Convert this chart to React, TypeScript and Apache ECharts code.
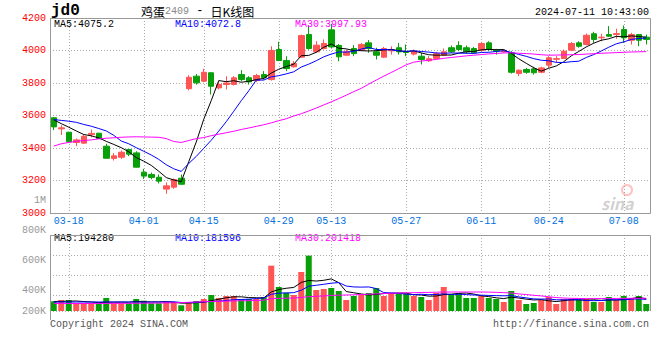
import React, { useEffect, useRef } from 'react';
import * as echarts from 'echarts';

const dates = ['03-14','03-15','03-18','03-19','03-20','03-21','03-22','03-25','03-26','03-27','03-28','03-29','04-01','04-02','04-03','04-08','04-09','04-10','04-11','04-12','04-15','04-16','04-17','04-18','04-19','04-22','04-23','04-24','04-25','04-26','04-29','04-30','05-06','05-07','05-08','05-09','05-10','05-13','05-14','05-15','05-16','05-17','05-20','05-21','05-22','05-23','05-24','05-27','05-28','05-29','05-30','05-31','06-03','06-04','06-05','06-06','06-07','06-11','06-12','06-13','06-14','06-17','06-18','06-19','06-20','06-21','06-24','06-25','06-26','06-27','06-28','07-01','07-02','07-03','07-04','07-05','07-08','07-09','07-10','07-11'];

const opens = [3586,3518,3497,3434,3430,3482,3491,3411,3336,3343,3391,3370,3251,3237,3220,3147,3159,3214,3765,3842,3811,3863,3770,3791,3791,3852,3832,3815,3852,3821,4006,3938,3900,3959,4098,3992,4012,4127,4031,3971,4012,4002,4047,3992,3959,3998,4017,3990,3978,3965,3937,3951,3971,4017,4031,4017,4012,4002,4047,4002,3992,3986,3858,3883,3887,3866,3910,3946,3951,4002,4047,4037,4103,4078,4098,4098,4129,4063,4098,4082];
const closes = [3530,3524,3438,3450,3472,3490,3458,3337,3352,3374,3362,3282,3227,3219,3196,3167,3206,3177,3835,3801,3866,3780,3791,3800,3832,3821,3807,3846,3832,4000,3938,3889,3920,4092,4012,4033,4043,4022,3961,3992,3981,4037,4012,3971,4012,4004,3992,3988,3994,3945,3949,3980,3992,3992,4006,3992,3986,4043,4006,3996,3998,3866,3879,3866,3863,3893,3955,3950,3996,4043,4026,4094,4068,4082,4088,4104,4078,4098,4063,4068];
const lows = [3510,3480,3435,3411,3425,3466,3456,3335,3323,3333,3350,3280,3210,3208,3182,3118,3149,3175,3755,3790,3805,3729,3760,3760,3785,3811,3790,3805,3821,3815,3935,3873,3895,3955,4005,3986,4006,4015,3934,3965,3965,3996,3986,3945,3955,3975,3975,3965,3970,3914,3930,3945,3965,3986,3996,3980,3980,3996,3996,3975,3986,3858,3842,3857,3852,3860,3893,3924,3949,3996,4017,4031,4047,4057,4084,4072,4047,4037,4026,4037];
const highs = [3590,3540,3500,3458,3483,3514,3493,3426,3368,3385,3393,3380,3272,3249,3237,3188,3212,3237,3848,3855,3887,3865,3807,3842,3842,3879,3842,3856,3873,4026,4053,3965,3935,4098,4155,4057,4068,4163,4040,4006,4033,4047,4064,4017,4022,4026,4047,4037,4006,3986,3965,3992,4012,4031,4057,4031,4022,4053,4057,4010,4006,3996,3883,3893,3900,3900,3965,3965,4006,4053,4057,4104,4115,4103,4150,4134,4154,4109,4098,4098];

const ma5 = [3573,3550,3528,3505,3483,3475,3462,3441,3422,3402,3377,3341,3319,3293,3257,3218,3203,3193,3316,3437,3577,3692,3815,3808,3814,3805,3810,3821,3828,3861,3885,3901,3916,3968,3970,3989,4020,4040,4014,4010,4000,3999,3997,3999,4003,4007,3998,3993,3998,3985,3974,3971,3972,3972,3984,3992,3994,4004,4007,4005,4006,3982,3949,3921,3894,3873,3891,3905,3931,3967,3994,4022,4045,4063,4072,4087,4084,4090,4086,4082];
const ma10 = [3575,3570,3565,3558,3545,3534,3520,3505,3478,3443,3426,3402,3380,3357,3330,3297,3272,3256,3305,3348,3398,3448,3504,3562,3626,3691,3752,3818,3818,3838,3845,3856,3869,3898,3916,3937,3961,3978,3991,3990,3995,4009,4019,4006,4006,4004,3998,3995,3998,3994,3990,3985,3983,3985,3984,3983,3982,3988,3989,3994,3999,3988,3976,3964,3950,3940,3937,3927,3926,3931,3934,3957,3975,3997,4020,4041,4053,4068,4074,4077];
const ma30 = [3412,3426,3434,3441,3446,3450,3456,3460,3463,3466,3468,3469,3468,3467,3466,3458,3440,3434,3446,3458,3464,3476,3485,3494,3503,3514,3523,3533,3543,3555,3568,3580,3597,3611,3628,3646,3665,3684,3704,3725,3747,3767,3793,3818,3842,3865,3888,3912,3928,3935,3940,3945,3952,3957,3962,3967,3971,3975,3979,3982,3985,3986,3983,3981,3978,3974,3971,3972,3973,3974,3975,3978,3980,3983,3985,3987,3989,3991,3992,3993];

// volumes in thousands of lots
const volumeK = [153,174,174,122,122,122,122,205,122,122,122,190,163,122,122,142,142,90,122,158,190,253,205,237,237,190,190,190,221,716,379,289,253,616,874,332,348,363,316,174,237,253,284,363,237,269,269,269,237,221,174,284,379,269,284,205,205,237,205,190,142,316,174,111,126,174,221,111,190,190,174,190,142,142,221,174,237,205,237,111];
const volMa5K = [150,152,155,158,149,143,132,139,139,139,139,152,144,144,144,148,138,124,124,131,140,163,186,209,224,224,212,209,206,301,339,359,372,451,482,473,485,507,447,307,288,269,253,262,275,281,284,281,256,253,234,237,259,265,278,284,268,240,227,208,196,218,205,187,174,180,161,149,164,177,177,171,177,168,174,174,183,196,215,193];
const volMa10K = [142,142,142,142,142,142,142,142,142,144,141,142,141,141,141,143,145,134,134,137,144,150,155,166,178,182,187,197,207,263,282,285,290,328,392,406,422,439,449,394,380,377,380,354,291,284,277,267,259,264,258,261,270,261,266,259,253,250,246,243,240,243,223,207,191,188,190,177,176,176,179,166,163,166,176,176,177,187,191,183];
const volMa30K = [118,118,118,118,118,119,119,120,120,121,121,122,123,124,126,128,130,133,137,142,147,150,153,156,159,162,164,166,170,195,200,202,205,215,226,232,238,245,250,253,256,260,265,270,276,280,284,287,289,292,294,297,300,300,300,300,300,300,298,295,290,284,270,260,248,238,225,212,205,200,198,196,196,197,198,198,199,200,201,201];

const dateLabels = ['03-18','04-01','04-15','04-29','05-13','05-27','06-11','06-24','07-08'];
const volTickLabels = ['1M','800K','600K','400K','200K'];
const priceMaTexts = ['MA5:4075.2','MA10:4072.8','MA30:3997.93'];
const volMaTexts = ['MA5:194280','MA10:181596','MA30:201418'];
const symbolText = 'jd0';
const stampText = '2024-07-11 10:43:00';

const MONO = '"Liberation Mono", "DejaVu Sans Mono", monospace';
const CJK = '"Noto Sans CJK SC", sans-serif';
const RED = '#FF5555';
const GREEN = '#08A008';
const GRID_LINE = '#AAAAAA';
const BORDER = '#999999';
const MA_COLORS = ['#000000', '#0000FF', '#FF00FF'];

function txt(text: string, x: number, y: number, fill: string, font: string, align = 'left') {
  return {
    type: 'text', x, y, z: 50, silent: true,
    style: { text, fill, font, align, textAlign: align, verticalAlign: 'middle', textVerticalAlign: 'middle' },
  };
}

export default function App() {
  const ref = useRef<HTMLDivElement>(null);
  useEffect(() => {
    if (!ref.current) return;
    const chart = echarts.init(ref.current, null, { renderer: 'svg' });
    const labelIdx = new Set(dateLabels.map((d) => dates.indexOf(d)));
    const isLabel = (i: number) => labelIdx.has(i);
    const up = closes.map((c, i) => c >= opens[i]);
    const candle = dates.map((_, i) => [opens[i], closes[i], lows[i], highs[i]]);
    const dotted = { color: GRID_LINE, type: [1, 2] as any, width: 1 };
    const maLine = (data: number[], color: string, xi: number, yi: number) => ({
      type: 'line', data, xAxisIndex: xi, yAxisIndex: yi, symbol: 'none', silent: true,
      lineStyle: { color, width: 1 }, z: 3,
    });
    const volLabelY = [200, 230, 260, 290.5, 311];
    const maX = [54, 175, 295];

    const graphic: any[] = [
      txt(symbolText, 51, 11, '#000', `bold 16px ${MONO}`),
      {
        type: 'text', x: 141, y: 11, z: 50, silent: true,
        style: {
          text: '{a|鸡蛋}{b|2409}{c| - }{a|日K线图}',
          verticalAlign: 'middle', textVerticalAlign: 'middle',
          rich: {
            a: { font: `12px ${CJK}`, fill: '#000' },
            b: { font: `10px ${MONO}`, fill: '#888' },
            c: { font: `12px ${MONO}`, fill: '#000' },
          },
        },
      },
      txt(stampText, 649, 12, '#000', `10px ${MONO}`, 'right'),
      ...priceMaTexts.map((t, i) => txt(t, maX[i], 24, MA_COLORS[i], `10px ${MONO}`)),
      ...volMaTexts.map((t, i) => txt(t, maX[i], 238, MA_COLORS[i], `10px ${MONO}`)),
      ...volTickLabels.map((t, i) => txt(t, 46, volLabelY[i], '#999', `10px ${MONO}`, 'right')),
      txt('Copyright 2024 SINA.COM', 50, 324, '#555', `10px ${MONO}`),
      txt('http://finance.sina.com.cn', 649, 324, '#555', `10px ${MONO}`, 'right'),
      {
        type: 'text', x: 601, y: 203, z: 1, silent: true,
        style: { text: 'sina', fill: 'rgba(150,150,150,0.45)', font: `italic bold 16px ${CJK}`, verticalAlign: 'middle', textVerticalAlign: 'middle' },
      },
      {
        type: 'circle', z: 1, silent: true, shape: { cx: 627, cy: 190, r: 5 },
        style: { fill: 'none', stroke: 'rgba(255,120,120,0.45)', lineWidth: 2 },
      },
      {
        type: 'rect', z: 60, silent: true, shape: { x: 50.5, y: 18.5, width: 600, height: 195 },
        style: { fill: 'none', stroke: BORDER, lineWidth: 1 },
      },
      {
        type: 'polyline', z: 60, silent: true,
        shape: { points: [[50.5, 320], [50.5, 235.5], [650.5, 235.5], [650.5, 311]] },
        style: { fill: 'none', stroke: BORDER, lineWidth: 1 },
      },
    ];

    const option: any = {
      animation: false,
      backgroundColor: '#FFFFFF',
      grid: [
        { left: 50, top: 18, width: 600, height: 195 },
        { left: 50, top: 235, width: 600, height: 76 },
      ],
      xAxis: [
        {
          type: 'category', gridIndex: 0, data: dates, boundaryGap: true,
          axisLine: { show: false }, axisTick: { show: false },
          axisLabel: { interval: (i: number) => isLabel(i), color: '#0070E0', fontFamily: MONO, fontSize: 10, margin: 3 },
          splitLine: { show: true, interval: (i: number) => isLabel(i), alignWithLabel: true, lineStyle: dotted },
        },
        {
          type: 'category', gridIndex: 1, data: dates, boundaryGap: true,
          axisLine: { show: false }, axisTick: { show: false }, axisLabel: { show: false },
          splitLine: { show: true, interval: (i: number) => isLabel(i), alignWithLabel: true, lineStyle: dotted },
        },
      ],
      yAxis: [
        {
          type: 'value', gridIndex: 0, min: 3000, max: 4200, interval: 200,
          axisLine: { show: false }, axisTick: { show: false },
          axisLabel: { color: '#FF0000', fontFamily: MONO, fontSize: 10, margin: 4, formatter: (v: number) => String(v) },
          splitLine: { show: true, lineStyle: dotted },
        },
        {
          type: 'value', gridIndex: 1, min: 0, max: 1200,
          axisLine: { show: false }, axisTick: { show: false }, axisLabel: { show: false },
          splitLine: { show: false },
        },
        {
          type: 'value', gridIndex: 1, min: 0, max: 76, interval: 20, inverse: true,
          axisLine: { show: false }, axisTick: { show: false }, axisLabel: { show: false },
          splitLine: { show: true, lineStyle: dotted },
        },
      ],
      series: [
        {
          type: 'candlestick', xAxisIndex: 0, yAxisIndex: 0, data: candle, barWidth: 6, silent: true,
          itemStyle: { color: RED, color0: GREEN, borderColor: RED, borderColor0: GREEN, borderWidth: 1 },
        },
        maLine(ma5, MA_COLORS[0], 0, 0),
        maLine(ma10, MA_COLORS[1], 0, 0),
        maLine(ma30, MA_COLORS[2], 0, 0),
        {
          type: 'bar', xAxisIndex: 1, yAxisIndex: 1, data: volumeK, barWidth: 6, silent: true,
          itemStyle: { color: (p: any) => (up[p.dataIndex] ? RED : GREEN) },
        },
        maLine(volMa5K, MA_COLORS[0], 1, 1),
        maLine(volMa10K, MA_COLORS[1], 1, 1),
        maLine(volMa30K, MA_COLORS[2], 1, 1),
      ],
      graphic,
    };
    chart.setOption(option);
    return () => chart.dispose();
  }, []);
  return <div ref={ref} style={{ position: 'fixed', left: 0, top: 0, width: 660, height: 360 }} />;
}
